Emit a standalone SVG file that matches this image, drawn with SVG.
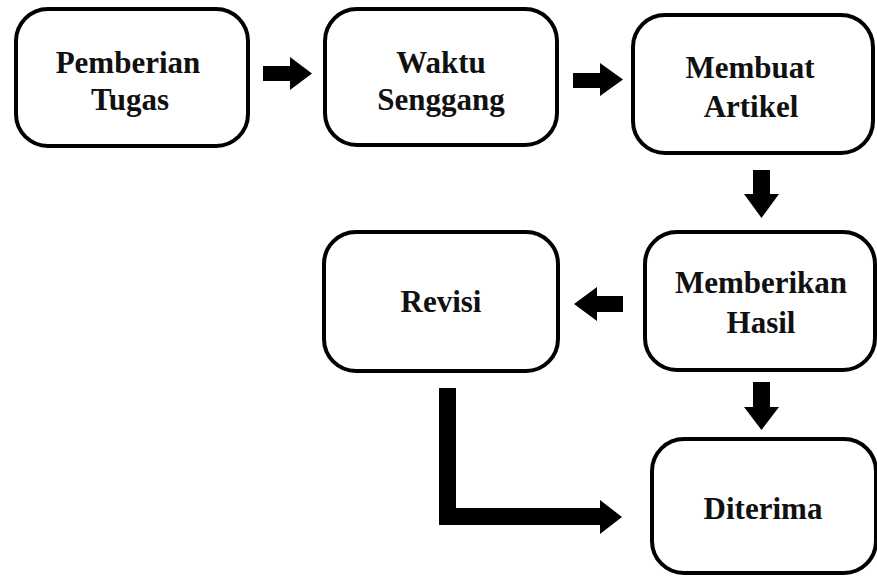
<svg xmlns="http://www.w3.org/2000/svg" width="877" height="577" viewBox="0 0 877 577">
<style>
.box{fill:#fff;stroke:#000;stroke-width:4}
.t{font-family:"Liberation Serif","Times New Roman",serif;font-weight:bold;font-size:31px;text-anchor:middle;fill:#111}
.arr{fill:#000}
</style>
<rect width="877" height="577" fill="#fff"/>
<g id="connectors">
<polygon class="arr" points="263,66 290,66 290,57 312,73.5 290,90 290,81 263,81"/>
<polygon class="arr" points="573,73 600,73 600,63 623,79.5 600,96 600,88 573,88"/>
<polygon class="arr" points="753,170 770,170 770,194 779,194 761.5,218 744,194 753,194"/>
<polygon class="arr" points="623,296 597,296 597,287 574,304 597,321 597,312 623,312"/>
<polygon class="arr" points="753,382 770,382 770,407 779,407 761.5,430 744,407 753,407"/>
<polygon class="arr" points="439,388 456,388 456,508 600,508 600,500 622,517 600,534 600,525 439,525"/>
</g>
<g id="n1"><rect class="box" x="16" y="9" width="232" height="137" rx="32"/>
<text class="t" x="128" y="73">Pemberian</text>
<text class="t" x="130" y="110">Tugas</text></g>
<g id="n2"><rect class="box" x="325" y="9" width="232" height="136" rx="32"/>
<text class="t" x="441" y="73">Waktu</text>
<text class="t" x="441" y="110">Senggang</text></g>
<g id="n3"><rect class="box" x="633" y="15" width="240" height="138" rx="32"/>
<text class="t" x="750" y="78">Membuat</text>
<text class="t" x="751" y="117">Artikel</text></g>
<g id="n4"><rect class="box" x="645" y="232" width="230" height="138" rx="32"/>
<text class="t" x="761" y="293">Memberikan</text>
<text class="t" x="761" y="333">Hasil</text></g>
<g id="n5"><rect class="box" x="324" y="232" width="234" height="139" rx="32"/>
<text class="t" x="441" y="312">Revisi</text></g>
<g id="n6"><rect class="box" x="652" y="439" width="224" height="134" rx="32"/>
<text class="t" x="763" y="519">Diterima</text></g>
</svg>
